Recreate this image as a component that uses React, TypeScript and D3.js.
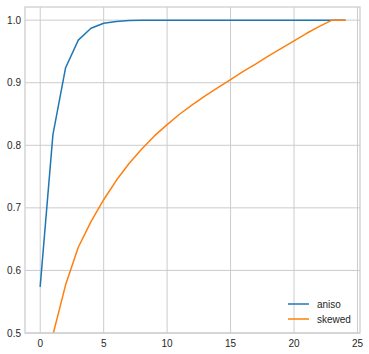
import React from 'react';
import * as d3 from 'd3';

const steps = d3.range(0, 25);
const anisoValues = [0.575, 0.817, 0.924, 0.968, 0.987, 0.995, 0.998, 0.9995, 0.9999, 1.0, 1.0, 1.0, 1.0, 1.0, 1.0, 1.0, 1.0, 1.0, 1.0, 1.0, 1.0, 1.0, 1.0, 1.0, 1.0];
const skewedValues = [0.38, 0.497, 0.577, 0.637, 0.678, 0.713, 0.744, 0.771, 0.794, 0.815, 0.833, 0.850, 0.865, 0.879, 0.892, 0.905, 0.918, 0.930, 0.943, 0.955, 0.967, 0.979, 0.990, 1.0, 1.0];
const xTicks = [0, 5, 10, 15, 20, 25];
const yTicks = [0.5, 0.6, 0.7, 0.8, 0.9, 1.0];

const seriesList = [
    { name: 'aniso', values: anisoValues, color: '#1f77b4' },
    { name: 'skewed', values: skewedValues, color: '#ff7f0e' },
];

const width = 369;
const height = 354;
const margin = { top: 7, right: 9, bottom: 21, left: 25 };

const App = () => {
    const x = d3.scaleLinear()
        .domain([-1.2, 25.2])
        .range([margin.left, width - margin.right]);

    const y = d3.scaleLinear()
        .domain([0.5, 1.021])
        .range([height - margin.bottom, margin.top]);

    const line = d3.line<number>()
        .x((_, i) => x(steps[i]))
        .y(d => y(d));

    const font = '"Liberation Sans", Arial, sans-serif';

    return (
        <div style={{ position: 'fixed', left: 0, top: 0 }}>
            <svg width={width} height={height} style={{ display: 'block', background: '#fff' }}>
                <defs>
                    <clipPath id="plot-area">
                        <rect x={margin.left} y={margin.top}
                            width={width - margin.left - margin.right}
                            height={height - margin.top - margin.bottom} />
                    </clipPath>
                </defs>

                {/* grid */}
                <g stroke="#cccccc" strokeWidth={1}>
                    {xTicks.map(t => (
                        <line key={`gx${t}`} x1={x(t)} x2={x(t)} y1={margin.top} y2={height - margin.bottom} />
                    ))}
                    {yTicks.map(t => (
                        <line key={`gy${t}`} x1={margin.left} x2={width - margin.right} y1={y(t)} y2={y(t)} />
                    ))}
                </g>

                {/* lines */}
                <g clipPath="url(#plot-area)" fill="none" strokeWidth={1.5}>
                    {seriesList.map(s => (
                        <path key={s.name} d={line(s.values) || ''} stroke={s.color} strokeLinejoin="round" strokeLinecap="square" />
                    ))}
                </g>

                {/* spines */}
                <rect x={margin.left} y={margin.top}
                    width={width - margin.left - margin.right}
                    height={height - margin.top - margin.bottom}
                    fill="none" stroke="#cccccc" strokeWidth={1.25} />

                {/* tick labels */}
                <g fontFamily={font} fontSize={10} fill="#262626">
                    {xTicks.map(t => (
                        <text key={`tx${t}`} x={x(t)} y={height - margin.bottom + 14} textAnchor="middle">{t}</text>
                    ))}
                    {yTicks.map(t => (
                        <text key={`ty${t}`} x={margin.left - 4} y={y(t) + 3.5} textAnchor="end">{t.toFixed(1)}</text>
                    ))}
                </g>

                {/* legend */}
                <g fontFamily={font} fontSize={10} fill="#262626">
                    {seriesList.map((s, i) => (
                        <g key={s.name} transform={`translate(288, ${304 + i * 15})`}>
                            <line x1={0} x2={21} y1={0} y2={0} stroke={s.color} strokeWidth={1.5} />
                            <text x={29} y={3.5}>{s.name}</text>
                        </g>
                    ))}
                </g>
            </svg>
        </div>
    );
};

export default App;
